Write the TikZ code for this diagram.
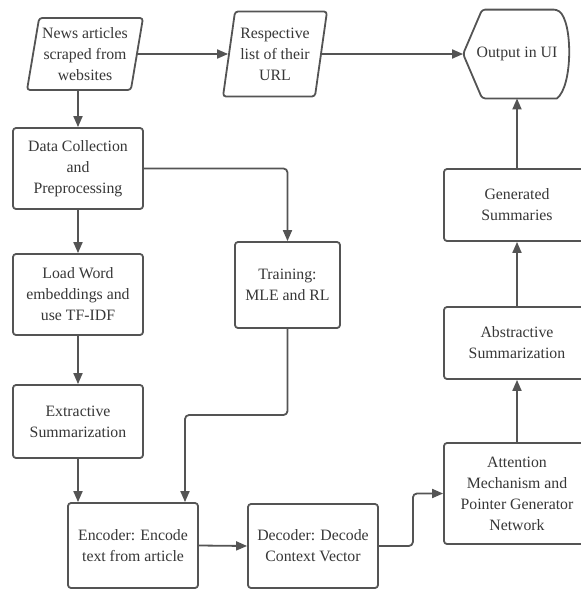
\documentclass[tikz,border=0pt]{standalone}
\usepackage{fontspec}
\setmainfont{Liberation Serif}
\usepackage{tikz}
\usetikzlibrary{arrows.meta,calc,positioning,shapes.geometric}
\definecolor{flowline}{RGB}{84,84,84}
\definecolor{flowtext}{RGB}{55,55,55}

\begin{document}
\begin{tikzpicture}[x=1pt,y=-1pt,line cap=round,line join=round,
  >={Triangle[length=11pt,width=9pt]},
  box/.style={draw=flowline,line width=1.8pt,rounded corners=3pt,fill=white,
    text=flowtext,align=center,inner sep=2pt,
    font=\fontsize{15.8}{21}\selectfont},
  stepbox/.style={box,rectangle,minimum width=#1},
  stepbox/.default=130pt,
  iobox/.style={box,trapezium,trapezium stretches body,
    trapezium left angle=78,trapezium right angle=102},
  arr/.style={->,draw=flowline,line width=1.8pt,rounded corners=4pt}]
\clip (0,0) rectangle (581,590);
% Inputs along the top row.
\node[iobox,minimum width=116pt,minimum height=72pt] (news) at (85,54)
  {News articles\\scraped from\\websites};
\node[iobox,minimum width=104pt,minimum height=85pt] (urls) at (275,54)
  {Respective\\list of their\\URL};
\node[box,draw=none,fill=none,minimum width=106pt,minimum height=87pt] (output)
  at (517,54) {Output in UI};
\draw[draw=flowline,line width=1.8pt,rounded corners=3pt]
 (output.west) -- ($(output.north west)+(19,0)$)
 -- ($(output.north east)+(-14,0)$) [sharp corners]
 .. controls ($(output.north east)+(2,12)$) and ($(output.south east)+(2,-12)$)
 .. ($(output.south east)+(-14,0)$) [rounded corners=3pt]
 -- ($(output.south west)+(19,0)$) -- cycle;
% Left column: preparation and extraction.
\node[stepbox,minimum height=81pt] (collect) at (78,168.5)
  {Data Collection\\and\\Preprocessing};
\node[stepbox,minimum height=81pt] (embed) at (78,294.5)
  {Load Word\\embeddings and\\use TF-IDF};
\node[stepbox,minimum height=73pt] (extract) at (78,421.5)
  {Extractive\\Summarization};
\node[stepbox=105pt,minimum height=86pt] (train) at (287.5,285)
  {Training:\\MLE and RL};
% Bottom row: encoder and decoder.
\node[stepbox,minimum height=85pt] (encoder) at (133,545.5)
  {Encoder: Encode\\text from article};
\node[stepbox,minimum height=84pt] (decoder) at (313,546)
  {Decoder: Decode\\Context Vector};
% Right column, cut by the page edge.
\node[stepbox=146pt,minimum height=101pt] (attn) at (517,493.5)
  {Attention\\Mechanism and\\Pointer Generator\\Network};
\node[stepbox=146pt,minimum height=72pt] (abstract) at (517,343)
  {Abstractive\\Summarization};
\node[stepbox=146pt,minimum height=72pt] (summ) at (517,205)
  {Generated\\Summaries};
\coordinate (trainbend) at (185,415);
% Connectors.
\draw[arr] (news.east) -- (news.east -| urls.west);
\draw[arr] (urls.east) -- (output.west);
\draw[arr] (collect.north |- news.south) -- (collect.north);
\draw[arr] (collect.south) -- (embed.north);
\draw[arr] (embed.south) -- (extract.north);
\draw[arr] (collect.east) -| (train.north);
\draw[arr] (extract.south) -- (extract.south |- encoder.north);
\draw[arr] (train.south) |- (trainbend) -- (trainbend |- encoder.north);
\draw[arr] (encoder.east) -- (decoder.west);
\draw[arr] (decoder.east) -- ++(34,0) |- (attn.west);
\draw[arr] (attn.north) -- (abstract.south);
\draw[arr] (abstract.north) -- (summ.south);
\draw[arr] (summ.north) -- (output.south);
\end{tikzpicture}
\end{document}
